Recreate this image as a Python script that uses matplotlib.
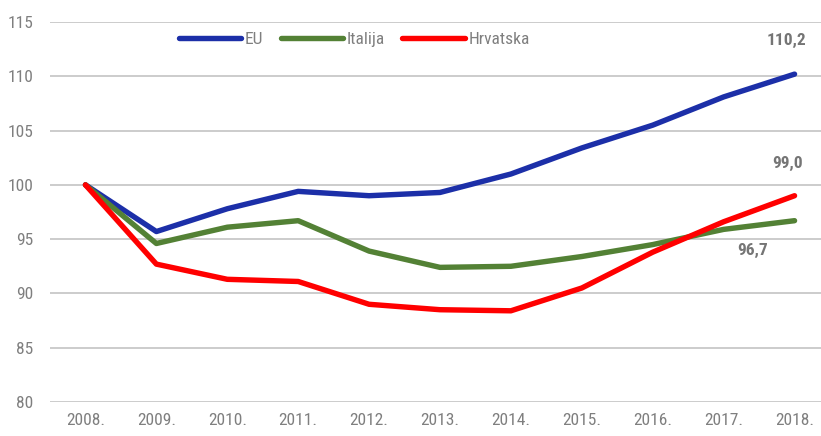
import matplotlib
matplotlib.use("Agg")
import matplotlib.pyplot as plt
from matplotlib import font_manager

years = ["2008.", "2009.", "2010.", "2011.", "2012.", "2013.", "2014.", "2015.", "2016.", "2017.", "2018."]
eu = [100.0, 95.7, 97.8, 99.4, 99.0, 99.3, 101.0, 103.4, 105.5, 108.1, 110.2]
italija = [100.0, 94.6, 96.1, 96.7, 93.9, 92.4, 92.5, 93.4, 94.5, 95.9, 96.7]
hrvatska = [100.0, 92.7, 91.3, 91.1, 89.0, 88.5, 88.4, 90.5, 93.8, 96.6, 99.0]
y_ticks = [80, 85, 90, 95, 100, 105, 110, 115]

# pick a narrow face if one is installed
names = {f.name for f in font_manager.fontManager.ttflist}
family = "DejaVu Sans"
for cand in ["Roboto Condensed", "Liberation Sans Narrow", "Open Sans Condensed"]:
    if cand in names:
        family = cand
        break
plt.rcParams["font.family"] = [family, "DejaVu Sans"]

text_color = "#7f7f7f"
fig = plt.figure(figsize=(8.21, 4.36), dpi=100)
ax = fig.add_axes([50 / 821, 0.078, 780 / 821, 0.8715])

x = list(range(len(years)))
ax.plot(x, eu, color="#1c2fa8", lw=3.9, label="EU", solid_capstyle="round")
ax.plot(x, italija, color="#538135", lw=3.9, label="Italija", solid_capstyle="round")
ax.plot(x, hrvatska, color="#ff0000", lw=3.9, label="Hrvatska", solid_capstyle="round")

ax.set_ylim(80, 115)
ax.set_xlim(-0.5, 10.5)
ax.set_yticks(y_ticks)
ax.set_xticks(x)
ax.set_xticklabels(years)
ax.yaxis.grid(True, color="#cccccc", lw=1.4)
ax.set_axisbelow(True)
for s in ax.spines.values():
    s.set_visible(False)
ax.tick_params(length=0, colors=text_color, labelsize=12.5, pad=8)
ax.tick_params(axis="y", pad=12)

ax.annotate(f"{eu[-1]:.1f}".replace(".", ","), (x[-1], eu[-1]), xytext=(-6, 21),
            textcoords="offset points", ha="center", color="#757575",
            fontsize=12.5, fontweight="bold")
ax.annotate(f"{hrvatska[-1]:.1f}".replace(".", ","), (x[-1], hrvatska[-1]), xytext=(-5, 20),
            textcoords="offset points", ha="center", color="#757575",
            fontsize=12.5, fontweight="bold")
ax.annotate(f"{italija[-1]:.1f}".replace(".", ","), (x[-1], italija[-1]), xytext=(-30, -25),
            textcoords="offset points", ha="center", color="#757575",
            fontsize=12.5, fontweight="bold")

leg = ax.legend(loc="center", bbox_to_anchor=(0.39, 0.955), ncol=3, frameon=False,
                handlelength=3.6, handletextpad=0.2, columnspacing=1.0, fontsize=12.5)
for t in leg.get_texts():
    t.set_color(text_color)

fig.savefig("out.png", dpi=100)
